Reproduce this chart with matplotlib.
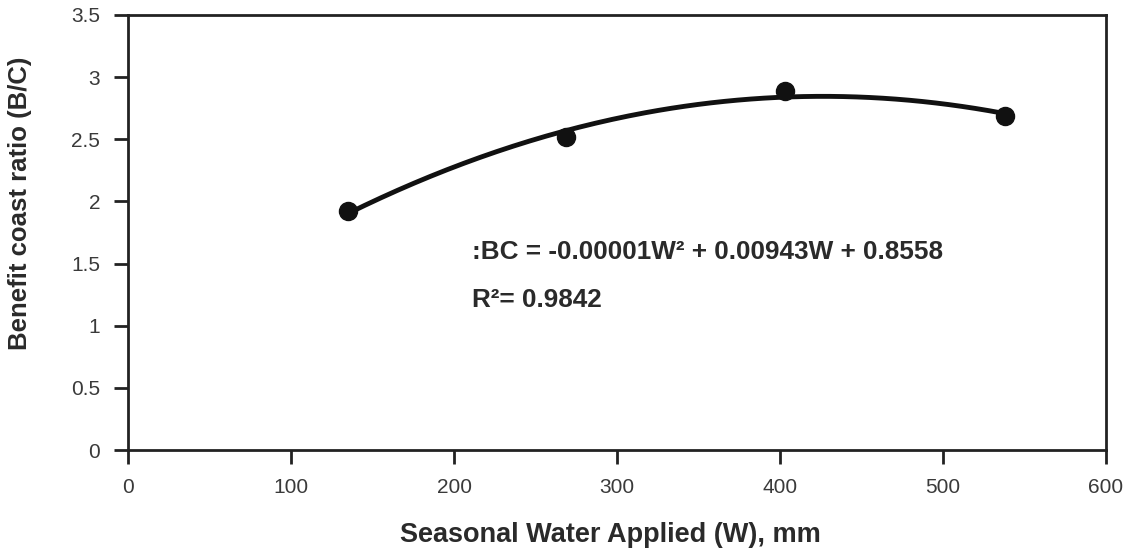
import numpy as np
import matplotlib
matplotlib.use("Agg")
import matplotlib.pyplot as plt

plt.rcParams['font.family'] = ['Liberation Sans', 'DejaVu Sans']

water = [135, 269, 403, 538]
bc_ratio = [1.92, 2.52, 2.89, 2.69]
x_ticks = [0, 100, 200, 300, 400, 500, 600]
y_ticks = [0, 0.5, 1, 1.5, 2, 2.5, 3, 3.5]
y_tick_labels = ['0', '0.5', '1', '1.5', '2', '2.5', '3', '3.5']

fig = plt.figure(figsize=(11.33, 5.52), dpi=100)
ax = fig.add_axes([128/1133, 1-450/552, (1106-128)/1133, (450-15)/552])

coef = np.polyfit(water, bc_ratio, 2)
xs = np.linspace(min(water), max(water), 200)
ax.plot(xs, np.polyval(coef, xs), color='#111111', lw=3.5, zorder=2)
ax.plot(water, bc_ratio, 'o', color='#111111', ms=13, zorder=3)

ax.set_xlim(0, 600)
ax.set_ylim(0, 3.5)
ax.set_xticks(x_ticks)
ax.set_yticks(y_ticks)
ax.set_yticklabels(y_tick_labels)
for s in ax.spines.values():
    s.set_linewidth(2)
    s.set_color('#222222')
ax.tick_params(axis='both', direction='out', length=10, width=2, color='#222222',
               labelsize=15, labelcolor='#3a3a3a', pad=10)

ax.set_xlabel('Seasonal Water Applied (W), mm', fontsize=19.5, fontweight='bold',
              color='#2a2a2a')
ax.set_ylabel('Benefit coast ratio (B/C)', fontsize=18.5, fontweight='bold',
              color='#2a2a2a')
ax.xaxis.set_label_coords(0.493, -0.195)
ax.yaxis.set_label_coords(-0.110, 0.568)
ax.xaxis.label.set_va('center')
ax.yaxis.label.set_va('center')
ax.yaxis.label.set_ha('center')

ax.text(0.352, 0.455, ':BC = -0.00001W\u00b2 + 0.00943W + 0.8558', transform=ax.transAxes,
        fontsize=18.8, fontweight='bold', color='#2a2a2a', va='center')
ax.text(0.352, 0.345, 'R\u00b2= 0.9842', transform=ax.transAxes,
        fontsize=18.8, fontweight='bold', color='#2a2a2a', va='center')

fig.savefig('out.png', dpi=100)
